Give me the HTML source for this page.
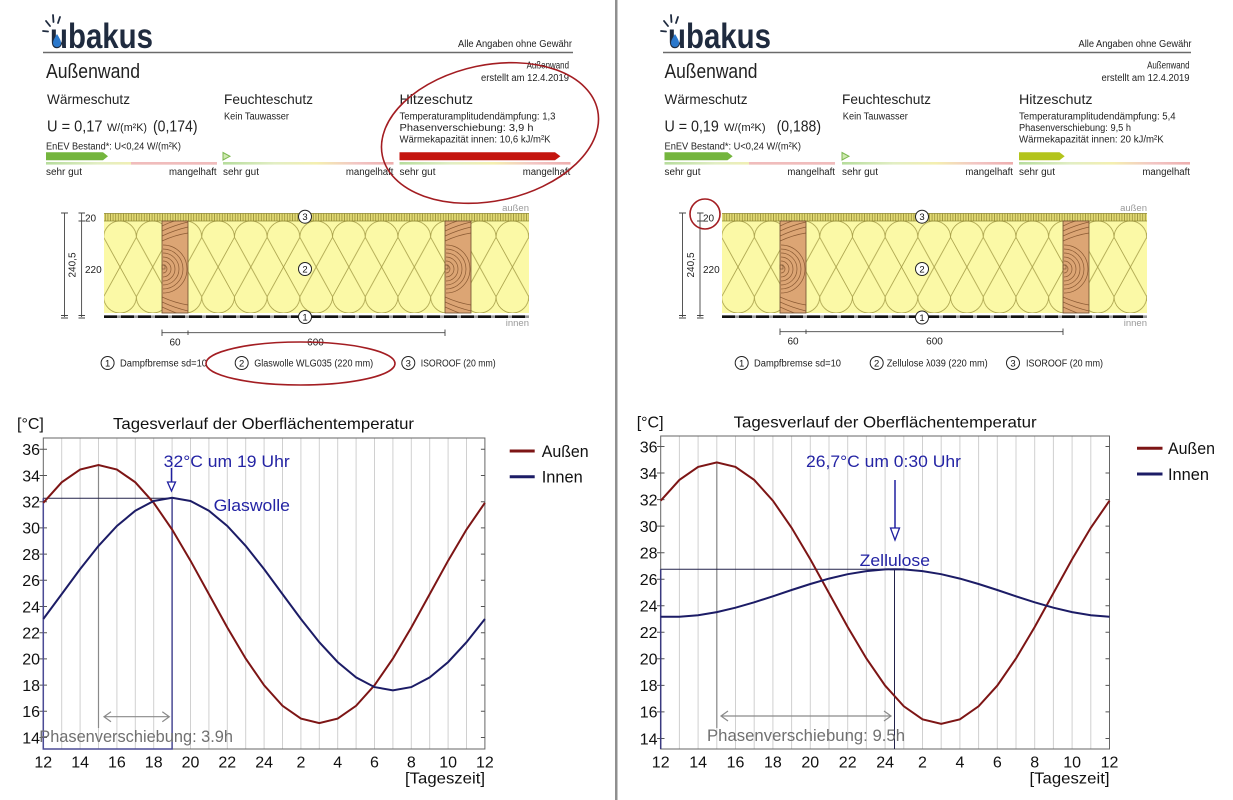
<!DOCTYPE html>
<html><head><meta charset="utf-8">
<style>
html,body{margin:0;padding:0;background:#fff;}
svg{display:block;font-family:"Liberation Sans",sans-serif;}
</style></head><body>
<svg width="1233" height="800" viewBox="0 0 1233 800" xmlns="http://www.w3.org/2000/svg" xmlns:xlink="http://www.w3.org/1999/xlink">
<defs>
<pattern id="ins1" patternUnits="userSpaceOnUse" x="120" y="221" width="32.7" height="92">
<path d="M-16.35,16.35A16.35,16.35 0 0 1 16.35,16.35A16.35,16.35 0 0 1 49.05,16.35M-16.35,75.65A16.35,16.35 0 0 0 16.35,75.65A16.35,16.35 0 0 0 49.05,75.65M-16.35,16.35L16.35,75.65M16.35,16.35L-16.35,75.65M16.35,16.35L49.05,75.65M49.05,16.35L16.35,75.65" fill="none" stroke="#a8a04a" stroke-width="0.8"/>
</pattern>
<pattern id="ins2" patternUnits="userSpaceOnUse" x="738" y="221" width="32.7" height="92">
<path d="M-16.35,16.35A16.35,16.35 0 0 1 16.35,16.35A16.35,16.35 0 0 1 49.05,16.35M-16.35,75.65A16.35,16.35 0 0 0 16.35,75.65A16.35,16.35 0 0 0 49.05,75.65M-16.35,16.35L16.35,75.65M16.35,16.35L-16.35,75.65M16.35,16.35L49.05,75.65M49.05,16.35L16.35,75.65" fill="none" stroke="#a8a04a" stroke-width="0.8"/>
</pattern>
<pattern id="hb" patternUnits="userSpaceOnUse" x="0" y="213.3" width="2.6" height="8">
<line x1="1.3" y1="0" x2="1.3" y2="8" stroke="#978f3a" stroke-width="0.8"/>
</pattern>
<linearGradient id="sc" x1="0" y1="0" x2="1" y2="0">
<stop offset="0" stop-color="#b6dc9c"/><stop offset="0.3" stop-color="#e2eec4"/><stop offset="0.55" stop-color="#f4efb0"/><stop offset="0.78" stop-color="#f2c6c4"/><stop offset="1" stop-color="#eeaeae"/>
</linearGradient>
<clipPath id="studclip"><rect x="0" y="0" width="26" height="92"/></clipPath>
<g id="stud">
<rect x="0" y="0" width="26" height="92" fill="#dca574"/>
<g clip-path="url(#studclip)" fill="none" stroke="#8a5a33" stroke-width="0.7">
<path d="M1,44A4,4 0 0 1 1,52M1,40A8,8 0 0 1 1,56M1,36A12,12 0 0 1 1,60M1,32A16,16 0 0 1 1,64M1,28A20,20 0 0 1 1,68M1,24A24,24 0 0 1 1,72M0,20Q13,14 26,12M0,15Q13,9 26,6M0,10Q13,4 26,1M0,5Q10,0 20,-2M0,76Q13,82 26,84M0,81Q13,87 26,90M0,86Q13,92 26,96"/>
</g>
<rect x="0" y="44" width="3" height="4" fill="none" stroke="#6e4d2e" stroke-width="0.6"/>
<rect x="0" y="0" width="26" height="92" fill="none" stroke="#6e4d2e" stroke-width="0.8"/>
</g>
</defs>

<!-- divider -->
<rect x="615" y="0" width="2.5" height="800" fill="#8f8f8f"/>

<!-- ================= LEFT HEADER ================= -->
<g fill="#1f2b3f" stroke="#1f2b3f" stroke-width="1.8" stroke-linecap="round">
<line x1="43" y1="31" x2="48" y2="31.5"/><line x1="46" y1="21" x2="50" y2="26"/><line x1="53" y1="15" x2="53.5" y2="22"/><line x1="60" y1="17" x2="58" y2="23"/>
</g>
<text x="50" y="48" font-size="35" font-weight="bold" fill="#1f2b3f" textLength="103" lengthAdjust="spacingAndGlyphs">ubakus</text>
<path d="M57,34 C59.5,38 61,40.5 61,43 A4,4 0 0 1 53,43 C53,40.5 54.5,38 57,34Z" fill="#2a78cc"/>
<text x="458" y="47" font-size="10" fill="#222" textLength="114" lengthAdjust="spacingAndGlyphs">Alle Angaben ohne Gewähr</text>
<line x1="43" y1="52.5" x2="573" y2="52.5" stroke="#6a6a6a" stroke-width="1.5"/>
<text x="46" y="78" font-size="20" fill="#222" textLength="94" lengthAdjust="spacingAndGlyphs">Außenwand</text>
<text x="569" y="68.5" font-size="10" fill="#222" text-anchor="end" textLength="42.4" lengthAdjust="spacingAndGlyphs">Außenwand</text>
<text x="569" y="81" font-size="10" fill="#222" text-anchor="end" textLength="88" lengthAdjust="spacingAndGlyphs">erstellt am 12.4.2019</text>
<text x="47" y="104" font-size="14" fill="#222" textLength="83" lengthAdjust="spacingAndGlyphs">Wärmeschutz</text>
<text x="224" y="104" font-size="14" fill="#222" textLength="89" lengthAdjust="spacingAndGlyphs">Feuchteschutz</text>
<text x="399.5" y="104" font-size="14" fill="#222" textLength="73.5" lengthAdjust="spacingAndGlyphs">Hitzeschutz</text>
<text x="47" y="131.5" font-size="16" fill="#222" textLength="55.5" lengthAdjust="spacingAndGlyphs">U = 0,17</text>
<text x="107" y="131" font-size="11" fill="#222" textLength="40" lengthAdjust="spacingAndGlyphs">W/(m²K)</text>
<text x="153" y="131.5" font-size="16" fill="#222" textLength="44.5" lengthAdjust="spacingAndGlyphs">(0,174)</text>
<text x="224" y="119.5" font-size="10" fill="#222" textLength="65" lengthAdjust="spacingAndGlyphs">Kein Tauwasser</text>
<text x="399.5" y="119.5" font-size="10" fill="#222" textLength="156" lengthAdjust="spacingAndGlyphs">Temperaturamplitudendämpfung: 1,3</text>
<text x="399.5" y="131" font-size="10" fill="#222" textLength="134" lengthAdjust="spacingAndGlyphs">Phasenverschiebung: 3,9 h</text>
<text x="399.5" y="142.5" font-size="10" fill="#222" textLength="151" lengthAdjust="spacingAndGlyphs">Wärmekapazität innen: 10,6 kJ/m²K</text>
<text x="46" y="149.5" font-size="10" fill="#222" textLength="135" lengthAdjust="spacingAndGlyphs">EnEV Bestand*: U&lt;0,24 W/(m²K)</text>
<rect x="46" y="162" width="171" height="2.6" fill="url(#sc)"/>
<rect x="131" y="162" width="86" height="2.6" fill="#f0bcbc"/>
<rect x="223" y="162" width="170.5" height="2.6" fill="url(#sc)"/>
<rect x="399.5" y="162" width="171" height="2.6" fill="url(#sc)"/>
<polygon points="46,152.3 103,152.3 108,156.3 103,160.3 46,160.3" fill="#74b53e"/>
<polygon points="223,152.5 230,156.3 223,160" fill="#cfe8b0" stroke="#7cb850" stroke-width="1"/>
<polygon points="399.5,152.3 555,152.3 560.4,156.3 555,160.3 399.5,160.3" fill="#c4150f"/>
<text x="46" y="175" font-size="10" fill="#222" textLength="36" lengthAdjust="spacingAndGlyphs">sehr gut</text>
<text x="216.6" y="175" font-size="10" fill="#222" text-anchor="end" textLength="47.6" lengthAdjust="spacingAndGlyphs">mangelhaft</text>
<text x="223" y="175" font-size="10" fill="#222" textLength="36" lengthAdjust="spacingAndGlyphs">sehr gut</text>
<text x="393.5" y="175" font-size="10" fill="#222" text-anchor="end" textLength="47.6" lengthAdjust="spacingAndGlyphs">mangelhaft</text>
<text x="399.5" y="175" font-size="10" fill="#222" textLength="36" lengthAdjust="spacingAndGlyphs">sehr gut</text>
<text x="570.3" y="175" font-size="10" fill="#222" text-anchor="end" textLength="47.6" lengthAdjust="spacingAndGlyphs">mangelhaft</text>

<!-- ================= RIGHT HEADER ================= -->
<g fill="#1f2b3f" stroke="#1f2b3f" stroke-width="1.8" stroke-linecap="round">
<line x1="661" y1="31" x2="666" y2="31.5"/><line x1="664" y1="21" x2="668" y2="26"/><line x1="671" y1="15" x2="671.5" y2="22"/><line x1="678" y1="17" x2="676" y2="23"/>
</g>
<text x="668" y="48" font-size="35" font-weight="bold" fill="#1f2b3f" textLength="103" lengthAdjust="spacingAndGlyphs">ubakus</text>
<path d="M675,34 C677.5,38 679,40.5 679,43 A4,4 0 0 1 671,43 C671,40.5 672.5,38 675,34Z" fill="#2a78cc"/>
<text x="1078.5" y="47" font-size="10" fill="#222" textLength="113" lengthAdjust="spacingAndGlyphs">Alle Angaben ohne Gewähr</text>
<line x1="663" y1="52.5" x2="1191" y2="52.5" stroke="#6a6a6a" stroke-width="1.5"/>
<text x="664.5" y="78" font-size="20" fill="#222" textLength="93" lengthAdjust="spacingAndGlyphs">Außenwand</text>
<text x="1189.5" y="68.5" font-size="10" fill="#222" text-anchor="end" textLength="42.4" lengthAdjust="spacingAndGlyphs">Außenwand</text>
<text x="1189.5" y="81" font-size="10" fill="#222" text-anchor="end" textLength="88" lengthAdjust="spacingAndGlyphs">erstellt am 12.4.2019</text>
<text x="664.5" y="104" font-size="14" fill="#222" textLength="83" lengthAdjust="spacingAndGlyphs">Wärmeschutz</text>
<text x="842" y="104" font-size="14" fill="#222" textLength="89" lengthAdjust="spacingAndGlyphs">Feuchteschutz</text>
<text x="1019" y="104" font-size="14" fill="#222" textLength="73.5" lengthAdjust="spacingAndGlyphs">Hitzeschutz</text>
<text x="664.5" y="131.5" font-size="16" fill="#222" textLength="54.3" lengthAdjust="spacingAndGlyphs">U = 0,19</text>
<text x="724" y="131" font-size="11" fill="#222" textLength="41.6" lengthAdjust="spacingAndGlyphs">W/(m²K)</text>
<text x="776.6" y="131.5" font-size="16" fill="#222" textLength="44.4" lengthAdjust="spacingAndGlyphs">(0,188)</text>
<text x="842.8" y="119.5" font-size="10" fill="#222" textLength="65" lengthAdjust="spacingAndGlyphs">Kein Tauwasser</text>
<text x="1019" y="119.5" font-size="10" fill="#222" textLength="156.6" lengthAdjust="spacingAndGlyphs">Temperaturamplitudendämpfung: 5,4</text>
<text x="1019" y="131" font-size="10" fill="#222" textLength="112" lengthAdjust="spacingAndGlyphs">Phasenverschiebung: 9,5 h</text>
<text x="1019" y="142.5" font-size="10" fill="#222" textLength="144.7" lengthAdjust="spacingAndGlyphs">Wärmekapazität innen: 20 kJ/m²K</text>
<text x="664.5" y="149.5" font-size="10" fill="#222" textLength="136.5" lengthAdjust="spacingAndGlyphs">EnEV Bestand*: U&lt;0,24 W/(m²K)</text>
<rect x="664.5" y="162" width="170.5" height="2.6" fill="url(#sc)"/>
<rect x="749" y="162" width="86" height="2.6" fill="#f0bcbc"/>
<rect x="842" y="162" width="171" height="2.6" fill="url(#sc)"/>
<rect x="1019" y="162" width="171" height="2.6" fill="url(#sc)"/>
<polygon points="664.5,152.3 727.5,152.3 732.7,156.3 727.5,160.3 664.5,160.3" fill="#74b53e"/>
<polygon points="842,152.5 849,156.3 842,160" fill="#cfe8b0" stroke="#7cb850" stroke-width="1"/>
<polygon points="1019,152.3 1059.5,152.3 1064.7,156.3 1059.5,160.3 1019,160.3" fill="#b3c41c"/>
<text x="664.5" y="175" font-size="10" fill="#222" textLength="36" lengthAdjust="spacingAndGlyphs">sehr gut</text>
<text x="835" y="175" font-size="10" fill="#222" text-anchor="end" textLength="47.6" lengthAdjust="spacingAndGlyphs">mangelhaft</text>
<text x="842" y="175" font-size="10" fill="#222" textLength="36" lengthAdjust="spacingAndGlyphs">sehr gut</text>
<text x="1013" y="175" font-size="10" fill="#222" text-anchor="end" textLength="47.6" lengthAdjust="spacingAndGlyphs">mangelhaft</text>
<text x="1019" y="175" font-size="10" fill="#222" textLength="36" lengthAdjust="spacingAndGlyphs">sehr gut</text>
<text x="1190" y="175" font-size="10" fill="#222" text-anchor="end" textLength="47.6" lengthAdjust="spacingAndGlyphs">mangelhaft</text>

<!-- ================= LEFT WALL ================= -->
<rect x="104" y="221" width="425" height="92" fill="#fbf9a6"/>
<rect x="104" y="221" width="425" height="92" fill="url(#ins1)"/>
<rect x="104" y="213.3" width="425" height="7.7" fill="#e2da74"/>
<rect x="104" y="213.3" width="425" height="7.7" fill="url(#hb)"/>
<line x1="104" y1="213.5" x2="529" y2="213.5" stroke="#8f8835" stroke-width="0.8"/>
<line x1="104" y1="221" x2="529" y2="221" stroke="#8f8835" stroke-width="0.8"/>
<use href="#stud" xlink:href="#stud" x="162" y="221"/>
<use href="#stud" xlink:href="#stud" x="445" y="221"/>
<line x1="104" y1="316.7" x2="529" y2="316.7" stroke="#9a9a9a" stroke-width="2.6"/>
<line x1="104" y1="316.7" x2="529" y2="316.7" stroke="#111" stroke-width="2.6" stroke-dasharray="13 4"/>
<text x="529" y="211" font-size="9.5" fill="#999" text-anchor="end">außen</text>
<text x="529" y="326" font-size="9.5" fill="#999" text-anchor="end">innen</text>
<g stroke="#444" stroke-width="0.9" fill="none">
<path d="M64.5,213V317M61,213H68M61,315.5H68M61,318H68M81.6,213V317M78.5,213H85M78.5,221H85M78.5,315.5H85M78.5,318H85"/>
<path d="M162,332.7H445M162,329.5V336M188,330.5V335M445,329.5V336"/>
</g>
<text transform="translate(75.5,265) rotate(-90)" font-size="10" fill="#222" text-anchor="middle">240,5</text>
<text x="85" y="221.5" font-size="10" fill="#222">20</text>
<text x="85" y="273" font-size="10" fill="#222">220</text>
<text x="175" y="345.5" font-size="10" fill="#222" text-anchor="middle">60</text>
<text x="315.5" y="345.5" font-size="10" fill="#222" text-anchor="middle">600</text>
<g fill="#fff" stroke="#222" stroke-width="1">
<circle cx="305" cy="216.7" r="6.5"/><circle cx="305" cy="269" r="6.5"/><circle cx="305" cy="317" r="6.5"/>
<circle cx="107.6" cy="363" r="6.5"/><circle cx="241.7" cy="363" r="6.5"/><circle cx="408.3" cy="363" r="6.5"/>
</g>
<g font-size="9.5" fill="#111" text-anchor="middle">
<text x="305" y="220">3</text><text x="305" y="272.3">2</text><text x="305" y="320.3">1</text>
<text x="107.6" y="366.3">1</text><text x="241.7" y="366.3">2</text><text x="408.3" y="366.3">3</text>
</g>
<text x="120" y="366.5" font-size="10" fill="#222" textLength="87" lengthAdjust="spacingAndGlyphs">Dampfbremse sd=10</text>
<text x="254.2" y="366.5" font-size="10" fill="#222" textLength="119" lengthAdjust="spacingAndGlyphs">Glaswolle WLG035 (220 mm)</text>
<text x="420.7" y="366.5" font-size="10" fill="#222" textLength="75" lengthAdjust="spacingAndGlyphs">ISOROOF (20 mm)</text>

<!-- ================= RIGHT WALL ================= -->
<rect x="722" y="221" width="425" height="92" fill="#fbf9a6"/>
<rect x="722" y="221" width="425" height="92" fill="url(#ins2)"/>
<rect x="722" y="213.3" width="425" height="7.7" fill="#e2da74"/>
<rect x="722" y="213.3" width="425" height="7.7" fill="url(#hb)"/>
<line x1="722" y1="213.5" x2="1147" y2="213.5" stroke="#8f8835" stroke-width="0.8"/>
<line x1="722" y1="221" x2="1147" y2="221" stroke="#8f8835" stroke-width="0.8"/>
<use href="#stud" xlink:href="#stud" x="780" y="221"/>
<use href="#stud" xlink:href="#stud" x="1063" y="221"/>
<line x1="722" y1="316.7" x2="1147" y2="316.7" stroke="#9a9a9a" stroke-width="2.6"/>
<line x1="722" y1="316.7" x2="1147" y2="316.7" stroke="#111" stroke-width="2.6" stroke-dasharray="13 4"/>
<text x="1147" y="211" font-size="9.5" fill="#999" text-anchor="end">außen</text>
<text x="1147" y="326" font-size="9.5" fill="#999" text-anchor="end">innen</text>
<g stroke="#444" stroke-width="0.9" fill="none">
<path d="M682.5,213V317M679,213H686M679,315.5H686M679,318H686M700,213V317M697,213H703.5M697,221H703.5M697,315.5H703.5M697,318H703.5"/>
<path d="M780,331.7H1063M780,328.5V335M806,329.5V334M1063,328.5V335"/>
</g>
<text transform="translate(694,265) rotate(-90)" font-size="10" fill="#222" text-anchor="middle">240,5</text>
<text x="703" y="221.5" font-size="10" fill="#222">20</text>
<text x="703" y="273" font-size="10" fill="#222">220</text>
<text x="793" y="344.5" font-size="10" fill="#222" text-anchor="middle">60</text>
<text x="934.5" y="344.5" font-size="10" fill="#222" text-anchor="middle">600</text>
<g fill="#fff" stroke="#222" stroke-width="1">
<circle cx="922" cy="216.7" r="6.5"/><circle cx="922" cy="269" r="6.5"/><circle cx="922" cy="317.5" r="6.5"/>
<circle cx="741.7" cy="363" r="6.5"/><circle cx="876.7" cy="363" r="6.5"/><circle cx="1013" cy="363" r="6.5"/>
</g>
<g font-size="9.5" fill="#111" text-anchor="middle">
<text x="922" y="220">3</text><text x="922" y="272.3">2</text><text x="922" y="320.8">1</text>
<text x="741.7" y="366.3">1</text><text x="876.7" y="366.3">2</text><text x="1013" y="366.3">3</text>
</g>
<text x="754" y="366.5" font-size="10" fill="#222" textLength="87" lengthAdjust="spacingAndGlyphs">Dampfbremse sd=10</text>
<text x="886.7" y="366.5" font-size="10" fill="#222" textLength="101" lengthAdjust="spacingAndGlyphs">Zellulose  λ039 (220 mm)</text>
<text x="1026" y="366.5" font-size="10" fill="#222" textLength="77" lengthAdjust="spacingAndGlyphs">ISOROOF (20 mm)</text>

<!-- red annotation marks -->
<g fill="none" stroke="#a31d22" stroke-width="1.6">
<ellipse cx="490" cy="133" rx="110" ry="68" transform="rotate(-12 490 133)"/>
<ellipse cx="300.5" cy="363.5" rx="94.5" ry="21.5"/>
<circle cx="705" cy="214" r="15"/>
</g>

<!-- ================= LEFT CHART ================= -->
<text x="17" y="429" font-size="16" fill="#111">[°C]</text>
<text x="113" y="429" font-size="16" fill="#111" textLength="301" lengthAdjust="spacingAndGlyphs">Tagesverlauf der Oberflächentemperatur</text>
<path d="M61.7,438V749M80.1,438V749M98.5,438V749M116.9,438V749M135.3,438V749M153.7,438V749M172.1,438V749M190.5,438V749M208.9,438V749M227.3,438V749M245.7,438V749M264.1,438V749M282.5,438V749M300.9,438V749M319.3,438V749M337.7,438V749M356.1,438V749M374.5,438V749M392.9,438V749M411.3,438V749M429.7,438V749M448.1,438V749M466.5,438V749" stroke="#d0d0d0" stroke-width="1" fill="none"/>
<rect x="43.3" y="438" width="441.6" height="311" fill="none" stroke="#666" stroke-width="1"/>
<path d="M39.5,449.3H47M39.5,475.5H47M39.5,501.7H47M39.5,527.9H47M39.5,554.1H47M39.5,580.3H47M39.5,606.5H47M39.5,632.7H47M39.5,658.9H47M39.5,685.1H47M39.5,711.3H47M39.5,737.5H47M480.9,449.3H484.9M480.9,475.5H484.9M480.9,501.7H484.9M480.9,527.9H484.9M480.9,554.1H484.9M480.9,580.3H484.9M480.9,606.5H484.9M480.9,632.7H484.9M480.9,658.9H484.9M480.9,685.1H484.9M480.9,711.3H484.9M480.9,737.5H484.9" stroke="#555" stroke-width="1" fill="none"/>
<g font-size="16" fill="#111" text-anchor="end">
<text x="40" y="455.1">36</text><text x="40" y="481.3">34</text><text x="40" y="507.5">32</text><text x="40" y="533.7">30</text><text x="40" y="559.9">28</text><text x="40" y="586.1">26</text><text x="40" y="612.3">24</text><text x="40" y="638.5">22</text><text x="40" y="664.7">20</text><text x="40" y="690.9">18</text><text x="40" y="717.1">16</text><text x="40" y="743.3">14</text>
</g>
<g font-size="16" fill="#111" text-anchor="middle">
<text x="43.3" y="767.5">12</text><text x="80.1" y="767.5">14</text><text x="116.9" y="767.5">16</text><text x="153.7" y="767.5">18</text><text x="190.5" y="767.5">20</text><text x="227.3" y="767.5">22</text><text x="264.1" y="767.5">24</text><text x="300.9" y="767.5">2</text><text x="337.7" y="767.5">4</text><text x="374.5" y="767.5">6</text><text x="411.3" y="767.5">8</text><text x="448.1" y="767.5">10</text><text x="484.9" y="767.5">12</text>
</g>
<text x="485" y="783.5" font-size="16" fill="#111" text-anchor="end" textLength="80" lengthAdjust="spacingAndGlyphs">[Tageszeit]</text>
<line x1="98.5" y1="465" x2="98.5" y2="728" stroke="#8a8a8a" stroke-width="1.2"/>
<line x1="43.3" y1="498.3" x2="172.1" y2="498.3" stroke="#22224a" stroke-width="1"/>
<path d="M43.3,498.3V749H172.1V498.3" stroke="#4b4b95" stroke-width="1.5" fill="none"/>
<polyline points="43.3,502.8 61.7,482.3 80.1,469.5 98.5,465.0 116.9,469.5 135.3,482.3 153.7,502.8 172.1,529.5 190.5,560.7 208.9,594.1 227.3,627.5 245.7,658.6 264.1,685.3 282.5,705.8 300.9,718.6 319.3,723.1 337.7,718.6 356.1,705.8 374.5,685.3 392.9,658.6 411.3,627.5 429.7,594.1 448.1,560.7 466.5,529.5 484.9,502.8" fill="none" stroke="#7d1515" stroke-width="2"/>
<polyline points="43.3,619.0 61.7,594.1 80.1,569.1 98.5,545.9 116.9,526.0 135.3,510.7 153.7,501.0 172.1,497.8 190.5,501.0 208.9,510.7 227.3,526.0 245.7,545.9 264.1,569.1 282.5,594.1 300.9,619.0 319.3,642.2 337.7,662.1 356.1,677.4 374.5,687.1 392.9,690.3 411.3,687.1 429.7,677.4 448.1,662.1 466.5,642.2 484.9,619.0" fill="none" stroke="#1c1c66" stroke-width="2"/>
<line x1="171.5" y1="468" x2="171.5" y2="483" stroke="#2020a0" stroke-width="1.5"/>
<polygon points="167.5,482 175.5,482 171.5,491" fill="#fff" stroke="#2020a0" stroke-width="1.3"/>
<text x="163.7" y="467" font-size="17" fill="#2424a4" textLength="126" lengthAdjust="spacingAndGlyphs">32°C um 19 Uhr</text>
<text x="213.6" y="511" font-size="17" fill="#2424a4" textLength="76.4" lengthAdjust="spacingAndGlyphs">Glaswolle</text>
<path d="M104,716.7H169.3M111,711.7L104,716.7L111,721.7M162.3,711.7L169.3,716.7L162.3,721.7" stroke="#8a8a8a" stroke-width="1.2" fill="none"/>
<text x="39.3" y="742" font-size="16.5" fill="#707070" textLength="193.7" lengthAdjust="spacingAndGlyphs">Phasenverschiebung: 3.9h</text>
<line x1="509.7" y1="451" x2="534.7" y2="451" stroke="#7d1515" stroke-width="3"/>
<line x1="509.7" y1="476.7" x2="534.7" y2="476.7" stroke="#1c1c66" stroke-width="3"/>
<text x="541.7" y="457" font-size="16.5" fill="#111" textLength="47" lengthAdjust="spacingAndGlyphs">Außen</text>
<text x="541.7" y="482.5" font-size="16.5" fill="#111" textLength="41" lengthAdjust="spacingAndGlyphs">Innen</text>

<!-- ================= RIGHT CHART ================= -->
<text x="636.7" y="427.5" font-size="16" fill="#111">[°C]</text>
<text x="733.6" y="427.5" font-size="16" fill="#111" textLength="303" lengthAdjust="spacingAndGlyphs">Tagesverlauf der Oberflächentemperatur</text>
<path d="M679.4,436V749M698.1,436V749M716.8,436V749M735.5,436V749M754.2,436V749M772.9,436V749M791.6,436V749M810.3,436V749M829,436V749M847.7,436V749M866.4,436V749M885.1,436V749M903.8,436V749M922.5,436V749M941.2,436V749M959.9,436V749M978.6,436V749M997.3,436V749M1016,436V749M1034.7,436V749M1053.4,436V749M1072.1,436V749M1090.8,436V749" stroke="#d0d0d0" stroke-width="1" fill="none"/>
<rect x="660.7" y="436" width="448.8" height="313" fill="none" stroke="#666" stroke-width="1"/>
<path d="M657,446.5H664.5M657,473H664.5M657,499.6H664.5M657,526.1H664.5M657,552.7H664.5M657,579.2H664.5M657,605.7H664.5M657,632.3H664.5M657,658.8H664.5M657,685.4H664.5M657,711.9H664.5M657,738.5H664.5M1105.5,446.5H1109.5M1105.5,473H1109.5M1105.5,499.6H1109.5M1105.5,526.1H1109.5M1105.5,552.7H1109.5M1105.5,579.2H1109.5M1105.5,605.7H1109.5M1105.5,632.3H1109.5M1105.5,658.8H1109.5M1105.5,685.4H1109.5M1105.5,711.9H1109.5M1105.5,738.5H1109.5" stroke="#555" stroke-width="1" fill="none"/>
<g font-size="16" fill="#111" text-anchor="end">
<text x="657.5" y="452.3">36</text><text x="657.5" y="478.8">34</text><text x="657.5" y="505.4">32</text><text x="657.5" y="531.9">30</text><text x="657.5" y="558.5">28</text><text x="657.5" y="585">26</text><text x="657.5" y="611.5">24</text><text x="657.5" y="638.1">22</text><text x="657.5" y="664.6">20</text><text x="657.5" y="691.2">18</text><text x="657.5" y="717.7">16</text><text x="657.5" y="744.3">14</text>
</g>
<g font-size="16" fill="#111" text-anchor="middle">
<text x="660.7" y="767.5">12</text><text x="698.1" y="767.5">14</text><text x="735.5" y="767.5">16</text><text x="772.9" y="767.5">18</text><text x="810.3" y="767.5">20</text><text x="847.7" y="767.5">22</text><text x="885.1" y="767.5">24</text><text x="922.5" y="767.5">2</text><text x="959.9" y="767.5">4</text><text x="997.3" y="767.5">6</text><text x="1034.7" y="767.5">8</text><text x="1072.1" y="767.5">10</text><text x="1109.5" y="767.5">12</text>
</g>
<text x="1109.5" y="783.5" font-size="16" fill="#111" text-anchor="end" textLength="80" lengthAdjust="spacingAndGlyphs">[Tageszeit]</text>
<line x1="716.8" y1="462" x2="716.8" y2="728" stroke="#8a8a8a" stroke-width="1.2"/>
<line x1="660.7" y1="569.2" x2="894.5" y2="569.2" stroke="#22224a" stroke-width="1"/>
<line x1="894.5" y1="569.2" x2="894.5" y2="749" stroke="#22224a" stroke-width="1"/>
<line x1="660.7" y1="569.2" x2="660.7" y2="749" stroke="#3a3a80" stroke-width="1.5"/>
<polyline points="660.7,500.7 679.4,479.9 698.1,466.9 716.8,462.4 735.5,466.9 754.2,479.9 772.9,500.7 791.6,527.8 810.3,559.3 829.0,593.1 847.7,627.0 866.4,658.5 885.1,685.6 903.8,706.3 922.5,719.3 941.2,723.8 959.9,719.3 978.6,706.3 997.3,685.6 1016.0,658.5 1034.7,627.0 1053.4,593.1 1072.1,559.3 1090.8,527.8 1109.5,500.7" fill="none" stroke="#7d1515" stroke-width="2"/>
<polyline points="660.7,616.8 679.4,616.8 698.1,615.2 716.8,612.1 735.5,607.7 754.2,602.3 772.9,596.3 791.6,590.0 810.3,584.0 829.0,578.6 847.7,574.2 866.4,571.1 885.1,569.4 894.5,569.2 903.8,569.4 922.5,571.1 941.2,574.2 959.9,578.6 978.6,584.0 997.3,590.0 1016.0,596.3 1034.7,602.3 1053.4,607.7 1072.1,612.1 1090.8,615.2 1109.5,616.8" fill="none" stroke="#1c1c66" stroke-width="2"/>
<line x1="895" y1="480" x2="895" y2="529" stroke="#2020a0" stroke-width="1.5"/>
<polygon points="890.5,528 899.5,528 895,540" fill="#fff" stroke="#2020a0" stroke-width="1.3"/>
<text x="806" y="467" font-size="17" fill="#2424a4" textLength="155" lengthAdjust="spacingAndGlyphs">26,7°C um 0:30 Uhr</text>
<text x="859.7" y="566" font-size="17" fill="#2424a4" textLength="70.3" lengthAdjust="spacingAndGlyphs">Zellulose</text>
<path d="M721,716H891M728,711L721,716L728,721M884,711L891,716L884,721" stroke="#8a8a8a" stroke-width="1.2" fill="none"/>
<text x="707" y="741" font-size="16.5" fill="#707070" textLength="198" lengthAdjust="spacingAndGlyphs">Phasenverschiebung: 9.5h</text>
<line x1="1137" y1="448.3" x2="1162.5" y2="448.3" stroke="#7d1515" stroke-width="3"/>
<line x1="1137" y1="474" x2="1162.5" y2="474" stroke="#1c1c66" stroke-width="3"/>
<text x="1168" y="454.2" font-size="16.5" fill="#111" textLength="47" lengthAdjust="spacingAndGlyphs">Außen</text>
<text x="1168" y="479.9" font-size="16.5" fill="#111" textLength="41" lengthAdjust="spacingAndGlyphs">Innen</text>
</svg>
</body></html>
